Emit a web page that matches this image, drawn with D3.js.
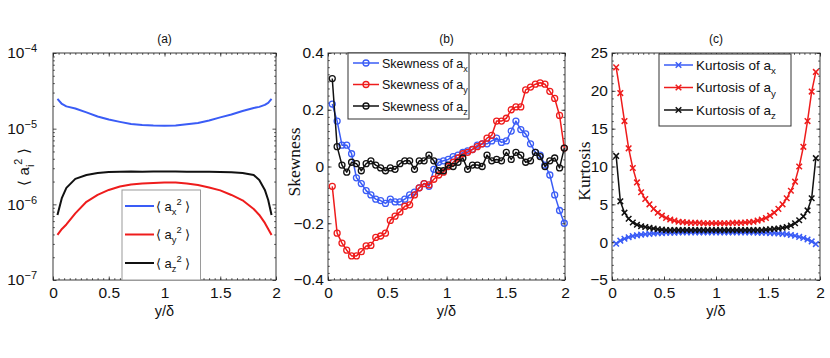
<!DOCTYPE html>
<html>
<head>
<meta charset="utf-8">
<script src="https://cdn.jsdelivr.net/npm/d3@7"></script>
<style>
  body { margin: 0; background: #fff; }
</style>
</head>
<body>
<svg id="chart" width="830" height="358"></svg>
<script>
// ---------------- data ----------------
// common x ticks
var xTickValues = [0, 0.5, 1, 1.5, 2];
var xTickLabels = ["0", "0.5", "1", "1.5", "2"];

// (a) mean square acceleration, log scale
var xA = [0.04, 0.08, 0.12, 0.2, 0.3, 0.4, 0.5, 0.6, 0.7, 0.8, 0.9, 1.0,
          1.1, 1.2, 1.3, 1.4, 1.5, 1.6, 1.7, 1.8, 1.85, 1.9, 1.93, 1.96];
var meanAx2 = [2.47e-5, 2.12e-5, 1.97e-5, 1.85e-5, 1.64e-5, 1.45e-5, 1.32e-5, 1.23e-5, 1.15e-5, 1.12e-5, 1.10e-5, 1.09e-5,
               1.10e-5, 1.14e-5, 1.19e-5, 1.28e-5, 1.41e-5, 1.54e-5, 1.71e-5, 1.88e-5, 1.94e-5, 2.06e-5, 2.19e-5, 2.47e-5];
var meanAy2 = [3.94e-7, 4.73e-7, 5.42e-7, 7.59e-7, 1.08e-6, 1.33e-6, 1.55e-6, 1.72e-6, 1.83e-6, 1.89e-6, 1.92e-6, 1.94e-6,
               1.94e-6, 1.89e-6, 1.80e-6, 1.67e-6, 1.53e-6, 1.33e-6, 1.13e-6, 8.69e-7, 7.24e-7, 5.68e-7, 4.73e-7, 3.94e-7];
var meanAz2 = [7.24e-7, 1.22e-6, 1.65e-6, 2.17e-6, 2.44e-6, 2.60e-6, 2.68e-6, 2.70e-6, 2.72e-6, 2.70e-6, 2.72e-6, 2.71e-6,
               2.72e-6, 2.70e-6, 2.69e-6, 2.70e-6, 2.68e-6, 2.66e-6, 2.60e-6, 2.44e-6, 2.10e-6, 1.55e-6, 1.14e-6, 7.24e-7];
var yTicksA = [1e-7, 1e-6, 1e-5, 1e-4];
var yTickExpA = ["\u22127", "\u22126", "\u22125", "\u22124"];

// (b) skewness
var xB = [0.036, 0.077, 0.118, 0.158, 0.199, 0.240, 0.281, 0.322, 0.362, 0.403, 0.444, 0.485, 0.526, 0.566, 0.607, 0.648,
          0.689, 0.730, 0.770, 0.811, 0.852, 0.893, 0.934, 0.974, 1.015, 1.056, 1.097, 1.138, 1.178, 1.219, 1.260, 1.301,
          1.342, 1.382, 1.423, 1.464, 1.505, 1.546, 1.586, 1.627, 1.668, 1.709, 1.750, 1.790, 1.831, 1.872, 1.913, 1.954, 1.994];
var skewAx = [0.22, 0.16, 0.075, 0.075, 0.045, -0.04, -0.06, -0.085, -0.10, -0.115, -0.12, -0.13, -0.115, -0.125, -0.125, -0.115,
              -0.10, -0.09, -0.075, -0.06, -0.07, -0.01, 0.015, 0.02, 0.025, 0.035, 0.04, 0.05, 0.055, 0.06, 0.075, 0.08,
              0.08, 0.09, 0.10, 0.085, 0.09, 0.125, 0.16, 0.13, 0.115, 0.08, 0.05, 0.04, 0.005, -0.03, -0.10, -0.155, -0.20];
var skewAy = [-0.07, -0.235, -0.27, -0.295, -0.315, -0.315, -0.30, -0.28, -0.278, -0.25, -0.245, -0.235, -0.19, -0.175, -0.16, -0.14,
              -0.135, -0.10, -0.075, -0.06, -0.065, -0.045, -0.03, -0.02, 0.0, 0.015, 0.03, 0.045, 0.05, 0.06, 0.07, 0.08,
              0.10, 0.11, 0.16, 0.16, 0.17, 0.20, 0.21, 0.21, 0.27, 0.28, 0.29, 0.295, 0.29, 0.265, 0.24, 0.18, 0.065];
var skewAz = [0.31, 0.07, 0.005, -0.02, 0.015, 0.01, -0.015, 0.01, 0.02, 0.005, -0.005, -0.015, -0.005, -0.01, 0.01, 0.02,
              0.02, -0.01, 0.02, 0.02, 0.04, 0.02, -0.015, -0.015, 0.005, 0.0, 0.015, 0.03, -0.01, 0.005, 0.005, 0.0,
              0.04, 0.02, 0.025, 0.02, 0.05, 0.025, 0.05, 0.04, 0.015, 0.02, 0.05, 0.035, 0.0, 0.02, 0.03, -0.005, 0.065];
var yTicksB = [-0.4, -0.2, 0, 0.2, 0.4];
var yTickLabelsB = ["\u22120.4", "\u22120.2", "0", "0.2", "0.4"];

// (c) kurtosis
var xC = [0.04, 0.08, 0.12, 0.16, 0.20, 0.24, 0.28, 0.32, 0.36, 0.40, 0.44, 0.48, 0.52, 0.56, 0.60, 0.64,
          0.68, 0.72, 0.76, 0.80, 0.84, 0.88, 0.92, 0.96, 1.00, 1.04, 1.08, 1.12, 1.16, 1.20, 1.24, 1.28,
          1.32, 1.36, 1.40, 1.44, 1.48, 1.52, 1.56, 1.60, 1.64, 1.68, 1.72, 1.76, 1.80, 1.84, 1.88, 1.92, 1.96];
var kurtAx = [-0.2, 0.2, 0.45, 0.65, 0.8, 0.9, 1.0, 1.05, 1.1, 1.15, 1.2, 1.2, 1.25, 1.25, 1.25, 1.3,
              1.3, 1.3, 1.3, 1.3, 1.3, 1.3, 1.3, 1.3, 1.3, 1.3, 1.3, 1.3, 1.3, 1.3, 1.3, 1.3,
              1.3, 1.3, 1.25, 1.25, 1.25, 1.2, 1.2, 1.15, 1.1, 1.05, 0.95, 0.85, 0.7, 0.55, 0.35, 0.1, -0.25];
var kurtAy = [23.1, 19.7, 16.0, 12.4, 9.8, 7.9, 6.6, 5.7, 5.0, 4.4, 3.9, 3.5, 3.2, 3.0, 2.85, 2.7,
              2.65, 2.6, 2.55, 2.55, 2.55, 2.5, 2.5, 2.5, 2.5, 2.5, 2.5, 2.5, 2.55, 2.55, 2.55, 2.6,
              2.65, 2.7, 2.85, 3.0, 3.2, 3.5, 3.9, 4.4, 5.0, 5.8, 6.8, 8.0, 10.0, 12.6, 16.0, 19.9, 22.5];
var kurtAz = [11.4, 5.4, 3.9, 3.1, 2.6, 2.3, 2.1, 2.0, 1.9, 1.8, 1.7, 1.65, 1.6, 1.6, 1.6, 1.6,
              1.6, 1.6, 1.6, 1.6, 1.6, 1.6, 1.6, 1.6, 1.6, 1.6, 1.6, 1.6, 1.6, 1.6, 1.6, 1.6,
              1.6, 1.6, 1.6, 1.6, 1.65, 1.7, 1.75, 1.8, 1.9, 2.0, 2.2, 2.5, 2.9, 3.4, 4.2, 5.8, 11.1];
var yTicksC = [-5, 0, 5, 10, 15, 20, 25];
var yTickLabelsC = ["\u22125", "0", "5", "10", "15", "20", "25"];

// ---------------- setup ----------------
var SANS = '"Liberation Sans", Arial, Helvetica, sans-serif';
var SERIF = '"Liberation Serif", "Times New Roman", serif';
var BLUE = "#3a5cf6", RED = "#ee1c1c", BLACK = "#111";
var axisColor = "#262626";

var svg = d3.select("#chart");

// frames of the three axes
var frameA = {left: 53, right: 276, top: 53, bottom: 280};
var frameB = {left: 328, right: 565, top: 53, bottom: 280};
var frameC = {left: 612, right: 820, top: 53, bottom: 280};

// write text with tex-like sub / superscripts
function richText(sel, parts, size) {
  var cur = 0;
  parts.forEach(function(p) {
    var target = p[1] === "sub" ? size * 0.32 : (p[1] === "sup" ? -size * 0.45 : 0);
    sel.append("tspan")
      .attr("dy", (target - cur).toFixed(2))
      .attr("font-size", p[1] === "n" ? size : size * 0.72)
      .text(p[0]);
    cur = target;
  });
}

function styleText(g, size) {
  g.selectAll("text")
    .attr("font-family", SANS)
    .attr("font-size", size)
    .attr("fill", "#111");
}

// box, ticks on all four sides, labels on bottom / left
function drawAxes(f, x, y, yTicks, yLabels, yMinor, isLog) {
  var g = svg.append("g").style("color", axisColor);
  var xMinor = d3.range(0, 2.0001, 0.05);

  // minor ticks
  g.append("g").attr("transform", "translate(0," + f.bottom + ")")
    .call(d3.axisBottom(x).tickValues(xMinor).tickFormat("").tickSizeInner(-1.8).tickSizeOuter(0));
  g.append("g").attr("transform", "translate(0," + f.top + ")")
    .call(d3.axisTop(x).tickValues(xMinor).tickFormat("").tickSizeInner(-1.8).tickSizeOuter(0));
  g.append("g").attr("transform", "translate(" + f.left + ",0)")
    .call(d3.axisLeft(y).tickValues(yMinor).tickFormat("").tickSizeInner(-1.8).tickSizeOuter(0));
  g.append("g").attr("transform", "translate(" + f.right + ",0)")
    .call(d3.axisRight(y).tickValues(yMinor).tickFormat("").tickSizeInner(-1.8).tickSizeOuter(0));

  // major ticks
  var bx = g.append("g").attr("transform", "translate(0," + f.bottom + ")")
    .call(d3.axisBottom(x).tickValues(xTickValues)
      .tickFormat(function(d, i) { return xTickLabels[i]; })
      .tickSizeInner(-3.5).tickSizeOuter(0).tickPadding(7));
  styleText(bx, 15.5);
  g.append("g").attr("transform", "translate(0," + f.top + ")")
    .call(d3.axisTop(x).tickValues(xTickValues).tickFormat("").tickSizeInner(-3.5).tickSizeOuter(0));
  var ly = g.append("g").attr("transform", "translate(" + f.left + ",0)")
    .call(d3.axisLeft(y).tickValues(yTicks)
      .tickFormat(function(d, i) { return isLog ? "" : yLabels[i]; })
      .tickSizeInner(-3.5).tickSizeOuter(0).tickPadding(isLog ? 16 : 4));
  styleText(ly, 15.5);
  if (isLog) {
    // 10 with exponent
    ly.selectAll("text").each(function(d, i) {
      var t = d3.select(this).attr("text-anchor", "end");
      t.append("tspan").text("10");
      t.append("tspan").attr("dy", "-0.55em").attr("font-size", 11).text(yLabels[i]);
    });
  }
  g.append("g").attr("transform", "translate(" + f.right + ",0)")
    .call(d3.axisRight(y).tickValues(yTicks).tickFormat("").tickSizeInner(-3.5).tickSizeOuter(0));

  g.selectAll(".domain").remove();
  g.selectAll(".tick line").attr("stroke", axisColor).attr("stroke-width", 0.8);

  g.append("rect")
    .attr("x", f.left).attr("y", f.top)
    .attr("width", f.right - f.left).attr("height", f.bottom - f.top)
    .attr("fill", "none").attr("stroke", axisColor).attr("stroke-width", 0.9);
}

function titleAndXLabel(f, title) {
  var cx = (f.left + f.right) / 2;
  svg.append("text").attr("x", cx).attr("y", 43)
    .attr("text-anchor", "middle").attr("font-family", SANS).attr("font-size", 12)
    .attr("fill", "#111").text(title);
  svg.append("text").attr("x", cx).attr("y", 316)
    .attr("text-anchor", "middle").attr("font-family", SANS).attr("font-size", 14.5)
    .attr("fill", "#111").text("y/\u03b4");
}

function drawSeries(x, y, xs, ys, color, marker) {
  var pts = xs.map(function(d, i) { return [d, ys[i]]; });
  var line = d3.line().x(function(d) { return x(d[0]); }).y(function(d) { return y(d[1]); });
  svg.append("path").datum(pts)
    .attr("d", line).attr("fill", "none")
    .attr("stroke", color).attr("stroke-width", marker ? 1.5 : 2)
    .attr("stroke-linejoin", "round");
  if (marker) {
    drawMarkers(svg, pts.map(function(d) { return [x(d[0]), y(d[1])]; }), color, marker);
  }
}

function drawMarkers(parent, pixels, color, marker) {
  if (marker === "circle") {
    parent.append("g").selectAll("circle").data(pixels).enter().append("circle")
      .attr("cx", function(d) { return d[0]; })
      .attr("cy", function(d) { return d[1]; })
      .attr("r", 3).attr("fill", "none")
      .attr("stroke", color).attr("stroke-width", 1.3);
  } else {
    var sym = d3.symbol().type(d3.symbolTimes).size(22);
    parent.append("g").selectAll("path").data(pixels).enter().append("path")
      .attr("transform", function(d) { return "translate(" + d[0] + "," + d[1] + ")"; })
      .attr("d", sym).attr("fill", "none")
      .attr("stroke", color).attr("stroke-width", 1.5);
  }
}

// legend box with line samples
function drawLegend(box, items, opts) {
  var g = svg.append("g");
  g.append("rect")
    .attr("x", box.x).attr("y", box.y).attr("width", box.w).attr("height", box.h)
    .attr("fill", "#fff").attr("stroke", opts.edge).attr("stroke-width", 1);
  items.forEach(function(it, i) {
    var yy = opts.rows[i];
    g.append("line")
      .attr("x1", opts.lineX[0]).attr("x2", opts.lineX[1])
      .attr("y1", yy).attr("y2", yy)
      .attr("stroke", it.color).attr("stroke-width", opts.marker ? 1.5 : 2);
    if (opts.marker) {
      drawMarkers(g, [[(opts.lineX[0] + opts.lineX[1]) / 2, yy]], it.color, opts.marker);
    }
    var t = g.append("text")
      .attr("x", opts.textX).attr("y", yy + opts.size * 0.36)
      .attr("font-family", SANS).attr("fill", "#111");
    richText(t, it.parts, opts.size);
  });
}

// ---------------- panel (a) ----------------
var xScaleA = d3.scaleLinear().domain([0, 2]).range([frameA.left, frameA.right]);
var yScaleA = d3.scaleLog().domain([1e-7, 1e-4]).range([frameA.bottom, frameA.top]);
var minorA = [];
[1e-7, 1e-6, 1e-5].forEach(function(p) {
  [2, 3, 4, 5, 6, 7, 8, 9].forEach(function(m) { minorA.push(p * m); });
});
drawAxes(frameA, xScaleA, yScaleA, yTicksA, yTickExpA, minorA, true);
titleAndXLabel(frameA, "(a)");
drawSeries(xScaleA, yScaleA, xA, meanAx2, BLUE, null);
drawSeries(xScaleA, yScaleA, xA, meanAy2, RED, null);
drawSeries(xScaleA, yScaleA, xA, meanAz2, BLACK, null);

var ylabA = svg.append("text")
  .attr("transform", "translate(29,167) rotate(-90)")
  .attr("text-anchor", "middle").attr("font-family", SANS).attr("fill", "#111");
richText(ylabA, [["\u27e8 a", "n"], ["i", "sub"], ["2", "sup"], [" \u27e9", "n"]], 15);

drawLegend({x: 122, y: 190, w: 78.5, h: 90}, [
  {color: BLUE, parts: [["\u27e8 a", "n"], ["x", "sub"], ["2", "sup"], [" \u27e9", "n"]]},
  {color: RED, parts: [["\u27e8 a", "n"], ["y", "sub"], ["2", "sup"], [" \u27e9", "n"]]},
  {color: BLACK, parts: [["\u27e8 a", "n"], ["z", "sub"], ["2", "sup"], [" \u27e9", "n"]]}
], {edge: "#9a9a9a", rows: [206, 234.5, 263], lineX: [125, 154], textX: 156, size: 13, marker: null});

// ---------------- panel (b) ----------------
var xScaleB = d3.scaleLinear().domain([0, 2]).range([frameB.left, frameB.right]);
var yScaleB = d3.scaleLinear().domain([-0.4, 0.4]).range([frameB.bottom, frameB.top]);
drawAxes(frameB, xScaleB, yScaleB, yTicksB, yTickLabelsB, d3.range(-0.4, 0.4001, 0.025), false);
titleAndXLabel(frameB, "(b)");
drawSeries(xScaleB, yScaleB, xB, skewAx, BLUE, "circle");
drawSeries(xScaleB, yScaleB, xB, skewAy, RED, "circle");
drawSeries(xScaleB, yScaleB, xB, skewAz, BLACK, "circle");

svg.append("text")
  .attr("transform", "translate(300,162) rotate(-90)")
  .attr("text-anchor", "middle").attr("font-family", SERIF).attr("font-size", 17.5)
  .attr("fill", "#111").text("Skewness");

drawLegend({x: 348, y: 53, w: 121, h: 66}, [
  {color: BLUE, parts: [["Skewness of a", "n"], ["x", "sub"]]},
  {color: RED, parts: [["Skewness of a", "n"], ["y", "sub"]]},
  {color: BLACK, parts: [["Skewness of a", "n"], ["z", "sub"]]}
], {edge: "#333", rows: [63, 84.5, 106], lineX: [353, 379], textX: 382, size: 12.5, marker: "circle"});

// ---------------- panel (c) ----------------
var xScaleC = d3.scaleLinear().domain([0, 2]).range([frameC.left, frameC.right]);
var yScaleC = d3.scaleLinear().domain([-5, 25]).range([frameC.bottom, frameC.top]);
drawAxes(frameC, xScaleC, yScaleC, yTicksC, yTickLabelsC, d3.range(-5, 25.001, 1), false);
titleAndXLabel(frameC, "(c)");
drawSeries(xScaleC, yScaleC, xC, kurtAx, BLUE, "times");
drawSeries(xScaleC, yScaleC, xC, kurtAy, RED, "times");
drawSeries(xScaleC, yScaleC, xC, kurtAz, BLACK, "times");

svg.append("text")
  .attr("transform", "translate(590,171) rotate(-90)")
  .attr("text-anchor", "middle").attr("font-family", SERIF).attr("font-size", 17.5)
  .attr("fill", "#111").text("Kurtosis");

drawLegend({x: 659, y: 54, w: 132, h: 72}, [
  {color: BLUE, parts: [["Kurtosis of a", "n"], ["x", "sub"]]},
  {color: RED, parts: [["Kurtosis of a", "n"], ["y", "sub"]]},
  {color: BLACK, parts: [["Kurtosis of a", "n"], ["z", "sub"]]}
], {edge: "#333", rows: [65, 87.5, 110], lineX: [664, 693], textX: 696, size: 13.5, marker: "times"});
</script>
</body>
</html>
